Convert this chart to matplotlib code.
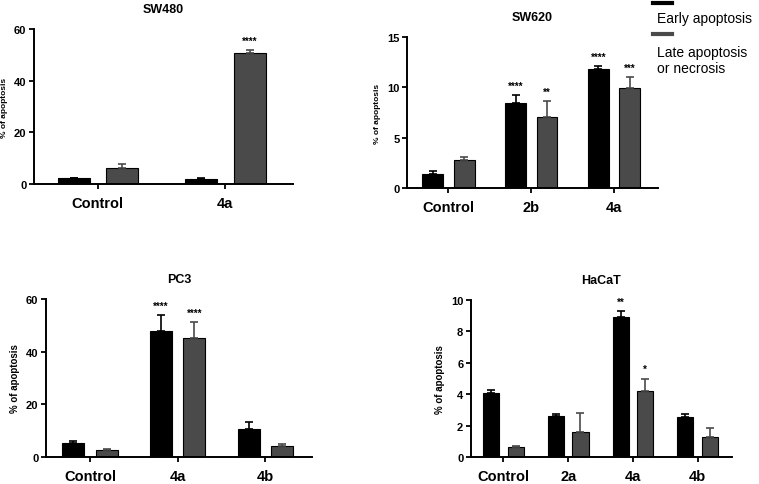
import numpy as np
import matplotlib
matplotlib.use("Agg")
import matplotlib.pyplot as plt

plt.rcParams['font.family'] = ['Liberation Sans', 'DejaVu Sans']

# Données (moyenne, erreur supérieure)
sw480_groupes = ["Control", "4a"]
sw480_early = [2.2, 2.0]
sw480_early_err = [0.3, 0.2]
sw480_late = [6.2, 50.8]
sw480_late_err = [1.6, 1.2]
sw480_etoiles_early = ["", ""]
sw480_etoiles_late = ["", "****"]

sw620_groupes = ["Control", "2b", "4a"]
sw620_early = [1.35, 8.45, 11.8]
sw620_early_err = [0.35, 0.75, 0.3]
sw620_late = [2.8, 7.1, 9.9]
sw620_late_err = [0.25, 1.5, 1.1]
sw620_etoiles_early = ["", "****", "****"]
sw620_etoiles_late = ["", "**", "***"]

pc3_groupes = ["Control", "4a", "4b"]
pc3_early = [5.5, 48.0, 10.5]
pc3_early_err = [0.7, 6.0, 2.7]
pc3_late = [2.8, 45.3, 4.2]
pc3_late_err = [0.3, 5.9, 0.6]
pc3_etoiles_early = ["", "****", ""]
pc3_etoiles_late = ["", "****", ""]

hacat_groupes = ["Control", "2a", "4a", "4b"]
hacat_early = [4.1, 2.6, 8.9, 2.55]
hacat_early_err = [0.15, 0.12, 0.4, 0.2]
hacat_late = [0.65, 1.6, 4.2, 1.3]
hacat_late_err = [0.07, 1.2, 0.8, 0.55]
hacat_etoiles_early = ["", "", "**", ""]
hacat_etoiles_late = ["", "", "*", ""]

NOIR = "#000000"
GRIS = "#4a4a4a"
W, H = 759, 485


def panneau(fig, rect_px, titre, groupes, early, early_err, late, late_err,
            et_early, et_late, ymax, yticks, ylabel_size):
    x0, y0, x1, y1 = rect_px
    ax = fig.add_axes([x0 / W, 1 - y1 / H, (x1 - x0) / W, (y1 - y0) / H])
    x = np.arange(len(groupes))
    larg = 0.25
    dx = 0.19
    ax.bar(x - dx, early, larg, color=NOIR, edgecolor=NOIR, linewidth=0.8, zorder=2)
    ax.bar(x + dx, late, larg, color=GRIS, edgecolor=NOIR, linewidth=0.8, zorder=2)
    ax.errorbar(x - dx, early, yerr=[np.zeros(len(x)), early_err], fmt="none",
                ecolor=NOIR, elinewidth=1.2, capsize=2.8, capthick=1.2, zorder=3)
    ax.errorbar(x + dx, late, yerr=[np.zeros(len(x)), late_err], fmt="none",
                ecolor=GRIS, elinewidth=1.2, capsize=2.8, capthick=1.2, zorder=3)
    for xi, v, e, s in zip(x - dx, early, early_err, et_early):
        if s:
            ax.annotate(s, (xi, v + e), xytext=(0, 3), textcoords="offset points",
                        ha="center", va="bottom", fontsize=7, fontweight="bold")
    for xi, v, e, s in zip(x + dx, late, late_err, et_late):
        if s:
            ax.annotate(s, (xi, v + e), xytext=(0, 3), textcoords="offset points",
                        ha="center", va="bottom", fontsize=7, fontweight="bold")

    ax.set_xlim(-0.5, len(groupes) - 0.47)
    ax.set_ylim(0, ymax)
    ax.set_yticks(yticks)
    ax.set_xticks(x)
    ax.set_xticklabels(groupes, fontsize=10.5, fontweight="bold")
    for lab in ax.get_yticklabels():
        lab.set_fontweight("bold")
        lab.set_fontsize(8)
    ax.tick_params(axis="both", direction="out", length=3.5, width=1.3, pad=2)
    ax.tick_params(axis="x", pad=5)
    for cote in ["top", "right"]:
        ax.spines[cote].set_visible(False)
    for cote in ["left", "bottom"]:
        ax.spines[cote].set_linewidth(1.4)
    ax.set_ylabel("% of apoptosis", fontsize=ylabel_size, fontweight="bold", labelpad=4)
    ax.set_title(titre, fontsize=9, fontweight="bold", pad=12)
    return ax


fig = plt.figure(figsize=(W / 100, H / 100), dpi=100)

panneau(fig, (34, 30, 293, 185), "SW480", sw480_groupes, sw480_early, sw480_early_err,
        sw480_late, sw480_late_err, sw480_etoiles_early, sw480_etoiles_late,
        60, [0, 20, 40, 60], 6)
panneau(fig, (407, 38, 658, 189), "SW620", sw620_groupes, sw620_early, sw620_early_err,
        sw620_late, sw620_late_err, sw620_etoiles_early, sw620_etoiles_late,
        15, [0, 5, 10, 15], 6)
panneau(fig, (46, 300, 312, 458), "PC3", pc3_groupes, pc3_early, pc3_early_err,
        pc3_late, pc3_late_err, pc3_etoiles_early, pc3_etoiles_late,
        60, [0, 20, 40, 60], 7)
panneau(fig, (471, 301, 732, 458), "HaCaT", hacat_groupes, hacat_early, hacat_early_err,
        hacat_late, hacat_late_err, hacat_etoiles_early, hacat_etoiles_late,
        10, [0, 2, 4, 6, 8, 10], 7)

# Légende en haut à droite
fig.add_artist(plt.Line2D([653 / W, 672 / W], [1 - 4 / H, 1 - 4 / H], color=NOIR, linewidth=3))
fig.text(657 / W, 1 - 19 / H, "Early apoptosis", fontsize=10, va="center", ha="left")
fig.add_artist(plt.Line2D([653 / W, 672 / W], [1 - 35 / H, 1 - 35 / H], color=GRIS, linewidth=3))
fig.text(657 / W, 1 - 61 / H, "Late apoptosis\nor necrosis", fontsize=10, va="center",
         ha="left", linespacing=1.2)

fig.savefig("out.png", dpi=100)
